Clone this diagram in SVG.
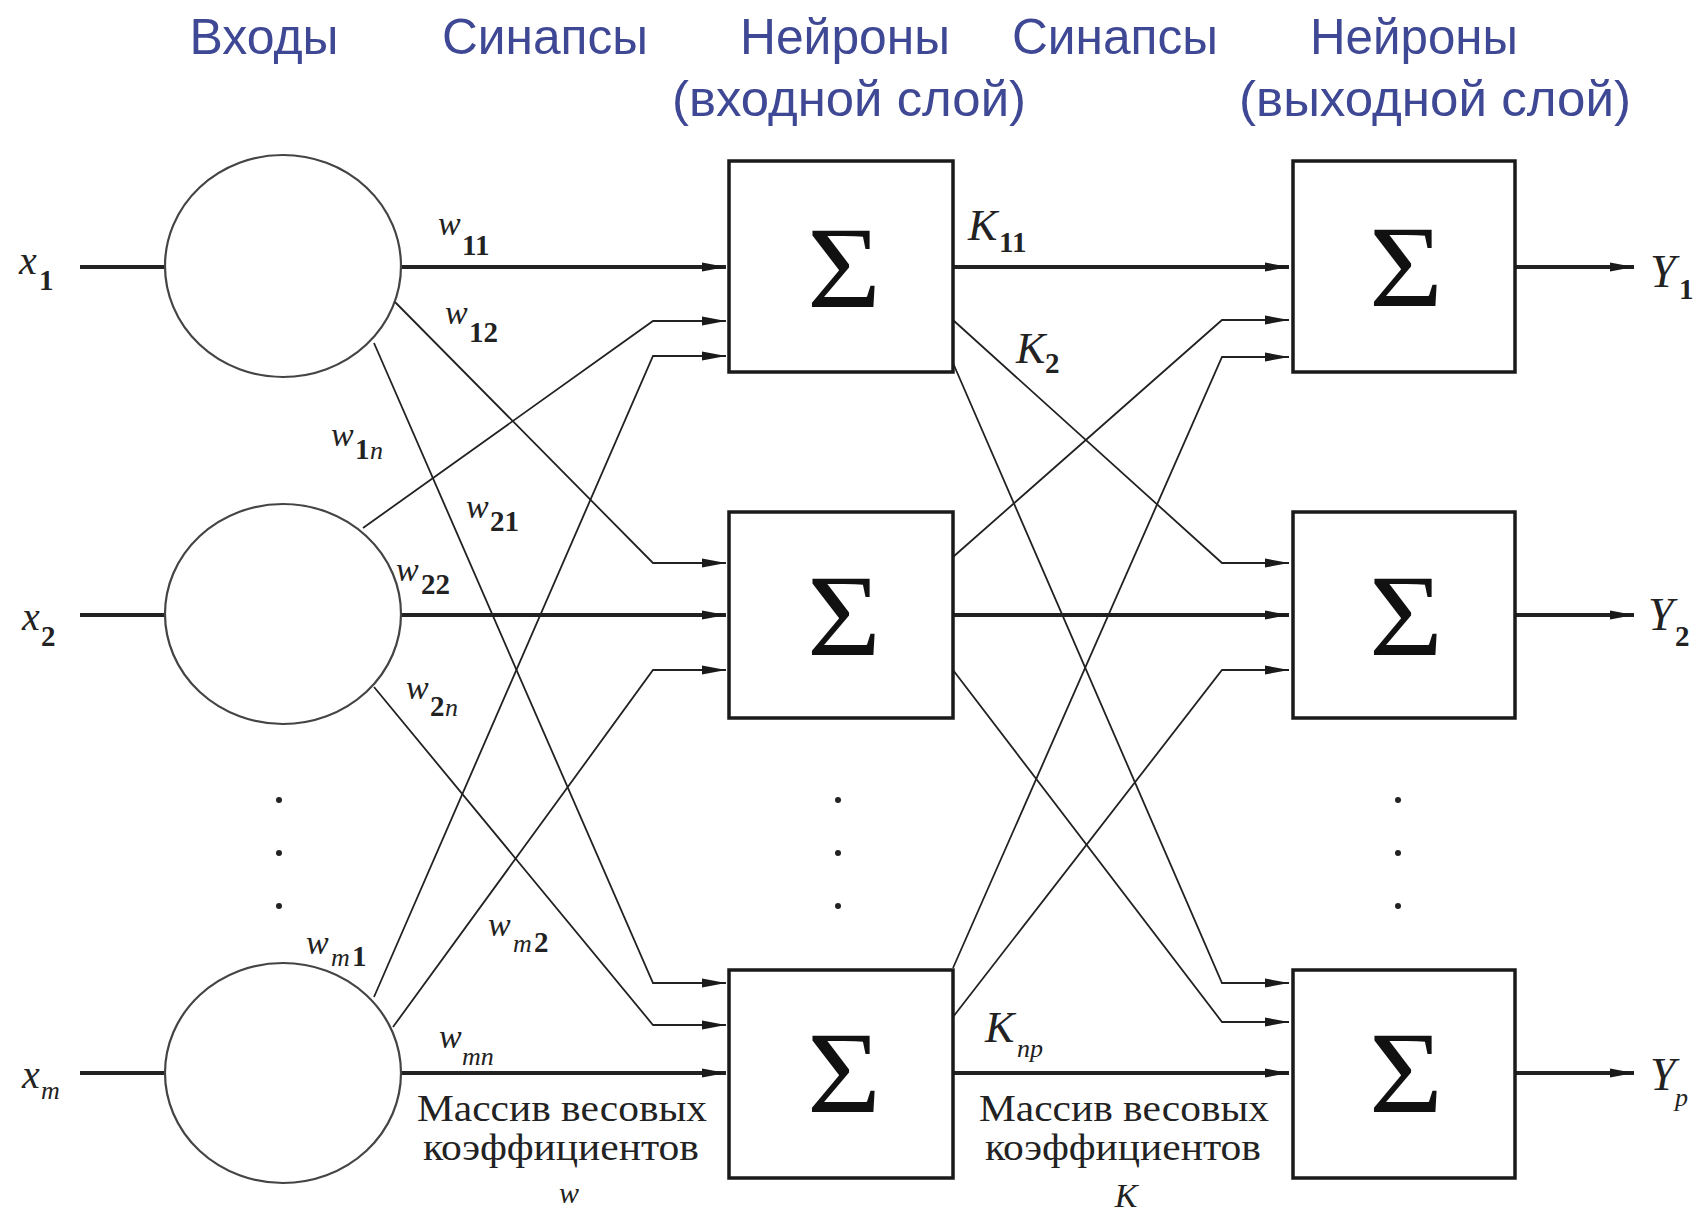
<svg xmlns="http://www.w3.org/2000/svg" width="1698" height="1212" viewBox="0 0 1698 1212">
<defs>
<marker id="arr" viewBox="0 0 24 10" refX="24" refY="5" markerWidth="24" markerHeight="10" markerUnits="userSpaceOnUse" orient="auto">
<path d="M0,0.5 L24,5 L0,9.5 Z" fill="#1a1a1a"/>
</marker>
<style>
.hdr{font-family:"Liberation Sans",Arial,sans-serif;font-size:50px;fill:#3f4894;text-anchor:middle}
.box{fill:#fff;stroke:#1a1a1a;stroke-width:3.5}
.cir{fill:#fff;stroke:#444;stroke-width:2.2}
.sig{font-family:"Liberation Serif","Times New Roman",serif;font-size:116px;fill:#111;text-anchor:middle}
.thick{fill:none;stroke:#222;stroke-width:4}
.thin{fill:none;stroke:#222;stroke-width:1.8}
.m{font-family:"Liberation Serif","Times New Roman",serif;font-style:italic;fill:#222}
.w{font-size:34px}
.sb{font-family:"Liberation Serif","Times New Roman",serif;font-weight:bold;font-size:29px;fill:#222;font-style:normal}
.si{font-family:"Liberation Serif","Times New Roman",serif;font-style:italic;font-size:26px;fill:#222}
.cap{font-family:"Liberation Serif","Times New Roman",serif;font-size:37px;fill:#222;text-anchor:middle}
.dot{fill:#222}
</style>
</defs>
<rect width="1698" height="1212" fill="#fff"/>

<g id="headers">
<text class="hdr" x="264" y="54" textLength="149" lengthAdjust="spacingAndGlyphs">Входы</text>
<text class="hdr" x="545" y="54" textLength="206" lengthAdjust="spacingAndGlyphs">Синапсы</text>
<text class="hdr" x="845" y="54" textLength="210" lengthAdjust="spacingAndGlyphs">Нейроны</text>
<text class="hdr" x="849" y="116" textLength="354" lengthAdjust="spacingAndGlyphs">(входной слой)</text>
<text class="hdr" x="1115" y="54" textLength="206" lengthAdjust="spacingAndGlyphs">Синапсы</text>
<text class="hdr" x="1414" y="54" textLength="208" lengthAdjust="spacingAndGlyphs">Нейроны</text>
<text class="hdr" x="1435" y="116" textLength="392" lengthAdjust="spacingAndGlyphs">(выходной слой)</text>
</g>

<g id="connectors">
<line class="thick" x1="80" y1="267" x2="165" y2="267"/>
<line class="thick" x1="80" y1="615" x2="165" y2="615"/>
<line class="thick" x1="80" y1="1073" x2="165" y2="1073"/>

<line class="thick" x1="401" y1="267" x2="726" y2="267" marker-end="url(#arr)"/>
<line class="thick" x1="401" y1="615" x2="726" y2="615" marker-end="url(#arr)"/>
<line class="thick" x1="401" y1="1073" x2="726" y2="1073" marker-end="url(#arr)"/>
<polyline class="thin" points="393,300 653,563 726,563" marker-end="url(#arr)"/>
<polyline class="thin" points="374,343 653,983 726,983" marker-end="url(#arr)"/>
<polyline class="thin" points="363,528 653,321 726,321" marker-end="url(#arr)"/>
<polyline class="thin" points="374,687 653,1025 726,1025" marker-end="url(#arr)"/>
<polyline class="thin" points="374,997 653,356 726,356" marker-end="url(#arr)"/>
<polyline class="thin" points="393,1027 653,670 726,670" marker-end="url(#arr)"/>

<line class="thick" x1="953" y1="267" x2="1289" y2="267" marker-end="url(#arr)"/>
<line class="thick" x1="953" y1="615" x2="1289" y2="615" marker-end="url(#arr)"/>
<line class="thick" x1="953" y1="1073" x2="1289" y2="1073" marker-end="url(#arr)"/>
<polyline class="thin" points="953,320 1222,563 1289,563" marker-end="url(#arr)"/>
<polyline class="thin" points="953,363 1222,983 1289,983" marker-end="url(#arr)"/>
<polyline class="thin" points="953,557 1222,320 1289,320" marker-end="url(#arr)"/>
<polyline class="thin" points="953,670 1222,1022 1289,1022" marker-end="url(#arr)"/>
<polyline class="thin" points="953,968 1222,357 1289,357" marker-end="url(#arr)"/>
<polyline class="thin" points="953,1017 1222,670 1289,670" marker-end="url(#arr)"/>

<line class="thick" x1="1515" y1="267" x2="1634" y2="267" marker-end="url(#arr)"/>
<line class="thick" x1="1515" y1="615" x2="1634" y2="615" marker-end="url(#arr)"/>
<line class="thick" x1="1515" y1="1073" x2="1634" y2="1073" marker-end="url(#arr)"/>
</g>

<g id="input1"><ellipse class="cir" cx="283" cy="266" rx="118" ry="111"/></g>
<g id="input2"><ellipse class="cir" cx="283" cy="614" rx="118" ry="110"/></g>
<g id="inputm"><ellipse class="cir" cx="283" cy="1073" rx="118" ry="110"/></g>

<g id="hidden1"><rect class="box" x="729" y="161" width="224" height="211"/><text class="sig" x="844" y="307" textLength="74" lengthAdjust="spacingAndGlyphs">Σ</text></g>
<g id="hidden2"><rect class="box" x="729" y="512" width="224" height="206"/><text class="sig" x="844" y="655" textLength="74" lengthAdjust="spacingAndGlyphs">Σ</text></g>
<g id="hidden3"><rect class="box" x="729" y="970" width="224" height="208"/><text class="sig" x="844" y="1112" textLength="74" lengthAdjust="spacingAndGlyphs">Σ</text></g>

<g id="out1"><rect class="box" x="1293" y="161" width="222" height="211"/><text class="sig" x="1406" y="306" textLength="74" lengthAdjust="spacingAndGlyphs">Σ</text></g>
<g id="out2"><rect class="box" x="1293" y="512" width="222" height="206"/><text class="sig" x="1406" y="655" textLength="74" lengthAdjust="spacingAndGlyphs">Σ</text></g>
<g id="out3"><rect class="box" x="1293" y="970" width="222" height="208"/><text class="sig" x="1406" y="1112" textLength="74" lengthAdjust="spacingAndGlyphs">Σ</text></g>

<g id="dots">
<circle class="dot" cx="279" cy="800" r="3"/><circle class="dot" cx="279" cy="853" r="3"/><circle class="dot" cx="279" cy="906" r="3"/>
<circle class="dot" cx="838" cy="800" r="3"/><circle class="dot" cx="838" cy="853" r="3"/><circle class="dot" cx="838" cy="906" r="3"/>
<circle class="dot" cx="1398" cy="800" r="3"/><circle class="dot" cx="1398" cy="853" r="3"/><circle class="dot" cx="1398" cy="906" r="3"/>
</g>

<g id="labels">
<text class="m" x="19" y="274" font-size="40" fill="#555">x</text><text class="sb" x="39" y="290" font-size="26">1</text>
<text class="m" x="22" y="630" font-size="40" fill="#555">x</text><text class="sb" x="41" y="646" font-size="26">2</text>
<text class="m" x="22" y="1088" font-size="40" fill="#555">x</text><text class="si" x="41" y="1099">m</text>

<text class="m w" x="438" y="235">w</text><text class="sb" x="462" y="255">11</text>
<text class="m w" x="445" y="324">w</text><text class="sb" x="469" y="342">12</text>
<text class="m w" x="331" y="446">w</text><text class="sb" x="355" y="459">1</text><text class="si" x="370" y="459">n</text>
<text class="m w" x="466" y="518">w</text><text class="sb" x="490" y="531">21</text>
<text class="m w" x="396" y="581">w</text><text class="sb" x="421" y="594">22</text>
<text class="m w" x="406" y="699">w</text><text class="sb" x="430" y="716">2</text><text class="si" x="445" y="716">n</text>
<text class="m w" x="306" y="954">w</text><text class="si" x="331" y="966">m</text><text class="sb" x="352" y="966">1</text>
<text class="m w" x="488" y="936">w</text><text class="si" x="513" y="952">m</text><text class="sb" x="534" y="952">2</text>
<text class="m w" x="439" y="1048">w</text><text class="si" x="462" y="1065">mn</text>

<text class="m" x="968" y="240" font-size="44">K</text><text class="sb" x="999" y="252">11</text>
<text class="m" x="1016" y="363" font-size="44">K</text><text class="sb" x="1045" y="373">2</text>
<text class="m" x="985" y="1042" font-size="44">K</text><text class="si" x="1017" y="1057">np</text>

<text class="m" x="1650" y="287" font-size="46">Y</text><text class="sb" x="1679" y="299" font-size="26">1</text>
<text class="m" x="1648" y="630" font-size="46">Y</text><text class="sb" x="1675" y="646" font-size="26">2</text>
<text class="m" x="1650" y="1090" font-size="46">Y</text><text class="si" x="1675" y="1106">p</text>

<text class="cap" x="562" y="1121" textLength="290" lengthAdjust="spacingAndGlyphs">Массив весовых</text>
<text class="cap" x="561" y="1160" textLength="276" lengthAdjust="spacingAndGlyphs">коэффициентов</text>
<text class="m" x="569" y="1203" font-size="30" text-anchor="middle">w</text>
<text class="cap" x="1124" y="1121" textLength="290" lengthAdjust="spacingAndGlyphs">Массив весовых</text>
<text class="cap" x="1123" y="1160" textLength="276" lengthAdjust="spacingAndGlyphs">коэффициентов</text>
<text class="m" x="1126" y="1207" font-size="34" text-anchor="middle">K</text>
</g>
</svg>
